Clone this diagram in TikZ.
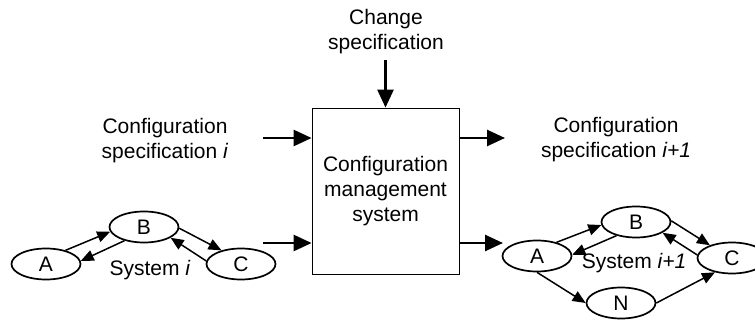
\documentclass[tikz,border=0pt]{standalone}
\usepackage{fontspec}
\setmainfont{Liberation Sans}
\usetikzlibrary{shapes.geometric,arrows.meta}

\begin{document}
\begin{tikzpicture}[x=1pt,y=-1pt,
        font=\fontsize{21}{25}\selectfont,
        every node/.style={inner sep=0pt},
        txt/.style={align=center},
        sys/.style={ellipse,draw,line width=1.7pt,minimum width=69pt,minimum height=31pt},
        bigarr/.style={line width=2.6pt,-{Triangle[length=18pt,width=16pt]}},
        smallarr/.style={line width=1.5pt,-{Triangle[length=13pt,width=11pt]}}]
        \useasboundingbox (0,0) rectangle (755,320);
        \node[draw,line width=0.8pt,minimum width=147pt,minimum height=166pt,align=center] (box) at (385.5,191) {Configuration\\management\\system};
        \node[txt] (chg) at (386,32) {Change\\specification};
        \node[txt] (lcs) at (165,141) {Configuration\\specification \textit{i}};
        \node[txt] (rcs) at (616,140) {Configuration\\specification \textit{i+1}};
        \coordinate (chgin) at (385.5,60);
        \coordinate (cin) at (263,138);
        \coordinate (sin) at (263,243);
        \coordinate (cout) at (505,138);
        \coordinate (sout) at (503,243);
        \draw[bigarr] (chgin) -- (box.north);
        \draw[bigarr] (cin) -- (cin -| box.west);
        \draw[bigarr] (sin) -- (sin -| box.west);
        \draw[bigarr] (cout -| box.east) -- (cout);
        \draw[bigarr] (sout -| box.east) -- (sout);
        \node[sys] (lA) at (46,264) {A};
        \node[sys] (lB) at (144,227) {B};
        \node[sys] (lC) at (241,264) {C};
        \node (lsys) at (150,270) {System \textit{i}};
        \draw[smallarr] (lA.35) -- (lB.188);
        \draw[smallarr] (lB.215) -- (lA.5);
        \draw[smallarr] (lB.-2) -- (lC.145);
        \draw[smallarr] (lC.175) -- (lB.-22);
        \node[sys] (rA) at (537,256) {A};
        \node[sys] (rB) at (636,222) {B};
        \node[sys] (rC) at (732,258) {C};
        \node[sys] (rN) at (621,303) {N};
        \node (rsys) at (634,263) {System \textit{i+1}};
        \draw[smallarr] (rA.35) -- (rB.185);
        \draw[smallarr] (rB.215) -- (rA.2);
        \draw[smallarr] (rB.2) -- (rC.150);
        \draw[smallarr] (rC.175) -- (rB.-22);
        \draw[smallarr] (rA.270) -- (rN.180);
        \draw[smallarr] (rN.0) -- (rC.220);
    \end{tikzpicture}
\end{document}
